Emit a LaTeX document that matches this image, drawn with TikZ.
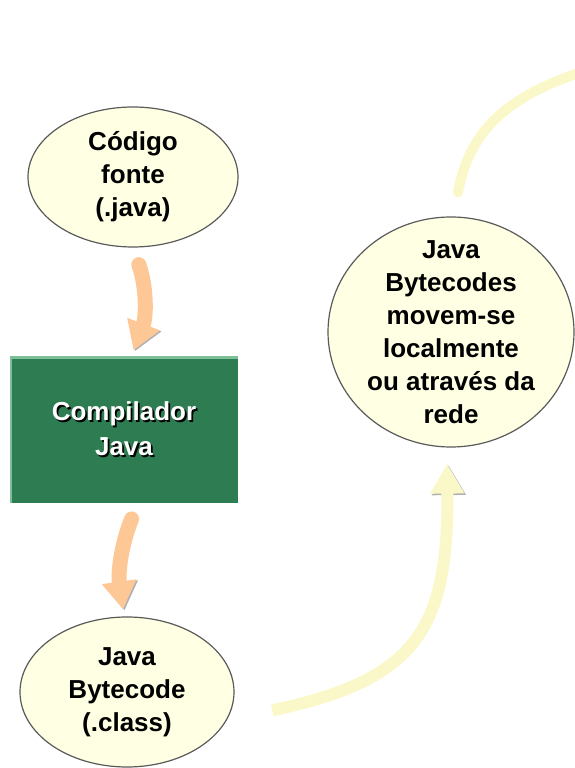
\documentclass[tikz,border=0pt]{standalone}
\usepackage{fontspec}
\setmainfont{Liberation Sans}
\usetikzlibrary{shapes.geometric,arrows.meta}
\definecolor{bubblefill}{RGB}{255,255,228}
\definecolor{bubbleline}{RGB}{90,90,90}
\definecolor{compgreen}{RGB}{45,124,82}
\definecolor{compedge}{RGB}{125,192,152}
\definecolor{peach}{RGB}{253,200,150}
\definecolor{paleyellow}{RGB}{250,248,200}
\newcommand\shadowline[1]{\makebox[0pt][l]{\hspace{1.8pt}\raisebox{-1.8pt}{\textcolor{black}{#1}}}#1}
\begin{document}
\begin{tikzpicture}[x=1pt,y=1pt,
  bubble/.style={ellipse,draw=bubbleline,fill=bubblefill,line width=1.2pt,inner sep=-20pt,
    align=center,font=\bfseries\fontsize{26}{33}\selectfont},
  compbox/.style={rectangle,fill=compgreen,minimum width=228pt,minimum height=146pt,
    path picture={\draw[compedge,line width=4pt] (path picture bounding box.south west)
      -- (path picture bounding box.north west) -- (path picture bounding box.north east);}},
  comptext/.style={align=center,text=white,font=\bfseries\fontsize{26}{35}\selectfont},
  peacharrow/.style={draw=peach,line width=15pt,line cap=round,-{Triangle[width=33pt,length=28pt]},
    preaction={draw=black!30,transform canvas={xshift=1.5pt,yshift=-1pt}}},
  yellowarrow/.style={draw=paleyellow,line width=12pt,-{Triangle[width=32pt,length=30pt]},
    preaction={draw=black!30,transform canvas={xshift=1.5pt,yshift=-1.5pt}}},
  yellowline/.style={draw=paleyellow,line width=10pt,line cap=round,
    preaction={draw=black!25,transform canvas={xshift=1.5pt,yshift=-1.5pt}}}]
\useasboundingbox (0,0) rectangle (574,768);

\node[bubble,minimum width=210pt,minimum height=140pt] (src) at (133,591) {Código\\fonte\\(.java)};
\node[compbox] (comp) at (124,338) {};
\node[comptext] (comptxt) at (comp.center) {\shadowline{Compilador}\\\shadowline{Java}};
\node[bubble,minimum width=214pt,minimum height=150pt] (bc) at (127,76) {Java\\Bytecode\\(.class)};
\node[bubble,minimum width=246pt,minimum height=230pt] (net) at (451,436)
  {Java\\Bytecodes\\movem-se\\localmente\\ou através da\\rede};
\coordinate (away) at (600,702);

\draw[peacharrow,shorten <=18pt,shorten >=7pt] (src.south) to[bend left=20] ([xshift=7pt]comp.north);
\draw[peacharrow,shorten <=17pt,shorten >=7pt] ([xshift=14pt]comp.south) to[bend right=15] ([xshift=-3pt]bc.north);
\draw[yellowarrow] ([xshift=41pt]bc.-10) .. controls +(140,30) and +(2,-170) .. ([shift={(-4pt,-16pt)}]net.south);
\draw[yellowline] ([shift={(7pt,24pt)}]net.north) .. controls +(12,65) and +(-90,-27) .. (away);
\end{tikzpicture}
\end{document}
